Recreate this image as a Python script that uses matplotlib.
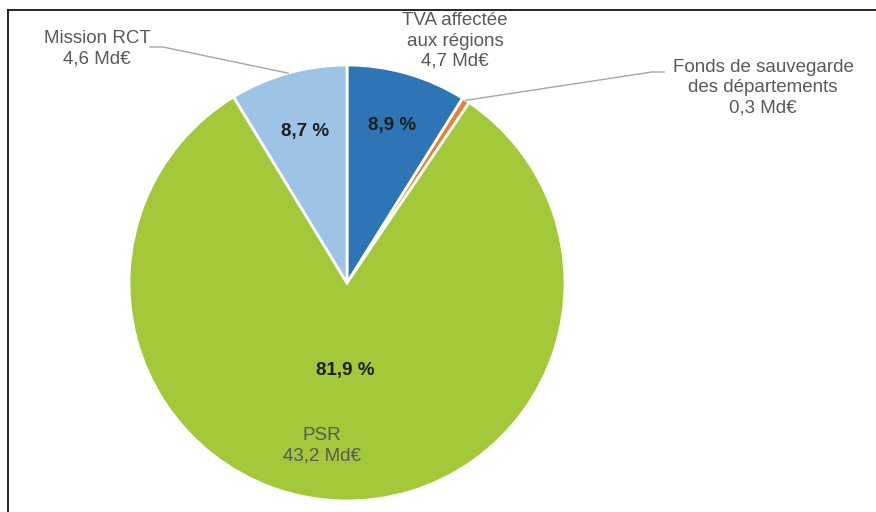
import numpy as np
import matplotlib.pyplot as plt
from matplotlib.lines import Line2D

plt.rcParams['font.family'] = ['Liberation Sans', 'DejaVu Sans']

# Ressources transférées aux collectivités (Md€)
categories = ["TVA affectée\naux régions", "Fonds de sauvegarde\ndes départements", "PSR", "Mission RCT"]
amounts = [4.7, 0.3, 43.2, 4.6]
amount_labels = ["4,7 Md€", "0,3 Md€", "43,2 Md€", "4,6 Md€"]
share_labels = ["8,9 %", "", "81,9 %", "8,7 %"]
colors = ["#2E75B6", "#ED7D31", "#A3C93A", "#9DC3E6"]

W, H = 876, 512
fig = plt.figure(figsize=(W / 100, H / 100), dpi=100)
ax = fig.add_axes([0, 0, 1, 1])

cx, cy, R = 347, H - 283, 218
wedges, _ = ax.pie(amounts, colors=colors, startangle=90, counterclock=False,
                   center=(cx, cy), radius=R,
                   wedgeprops=dict(edgecolor="white", linewidth=2.0))
ax.set_xlim(0, W)
ax.set_ylim(0, H)
ax.set_aspect("equal")
ax.axis("off")


def mid_point(w, r):
    a = np.deg2rad((w.theta1 + w.theta2) / 2)
    return cx + r * np.cos(a), cy + r * np.sin(a)


# percentages inside the slices
pct_dist = [0.75, 0, 0.4, 0.72]
for w, s, d in zip(wedges, share_labels, pct_dist):
    if s:
        x, y = mid_point(w, d * R)
        ax.text(x, y, s, ha="center", va="center", fontsize=13.5,
                fontweight="bold", color="#1E1E1E")

# category labels (pixel positions from the top-left corner)
label_pos = [(455, 41), (763, 88), (322, 446), (97, 49)]
for name, amt, (lx, ly) in zip(categories, amount_labels, label_pos):
    ax.text(lx, H - ly, name + "\n" + amt, ha="center", va="center",
            fontsize=13.5, color="#595959", linespacing=1.24)

# leader lines for the labels outside the pie
leaders = {3: [(150, 47), (163, 47)], 1: [(664, 72), (652, 72)]}
for i, pts in leaders.items():
    ex, ey = mid_point(wedges[i], R)
    xs = [p[0] for p in pts] + [ex]
    ys = [H - p[1] for p in pts] + [ey]
    ax.plot(xs, ys, color="#A6A6A6", lw=1.0)

# frame on the top and left edges
fig.add_artist(Line2D([8 / W, 1], [1 - 10 / H, 1 - 10 / H], color="black", lw=1.2,
                      transform=fig.transFigure))
fig.add_artist(Line2D([8 / W, 8 / W], [0, 1 - 10 / H], color="black", lw=1.2,
                      transform=fig.transFigure))

fig.savefig("out.png", dpi=100, facecolor="white")
